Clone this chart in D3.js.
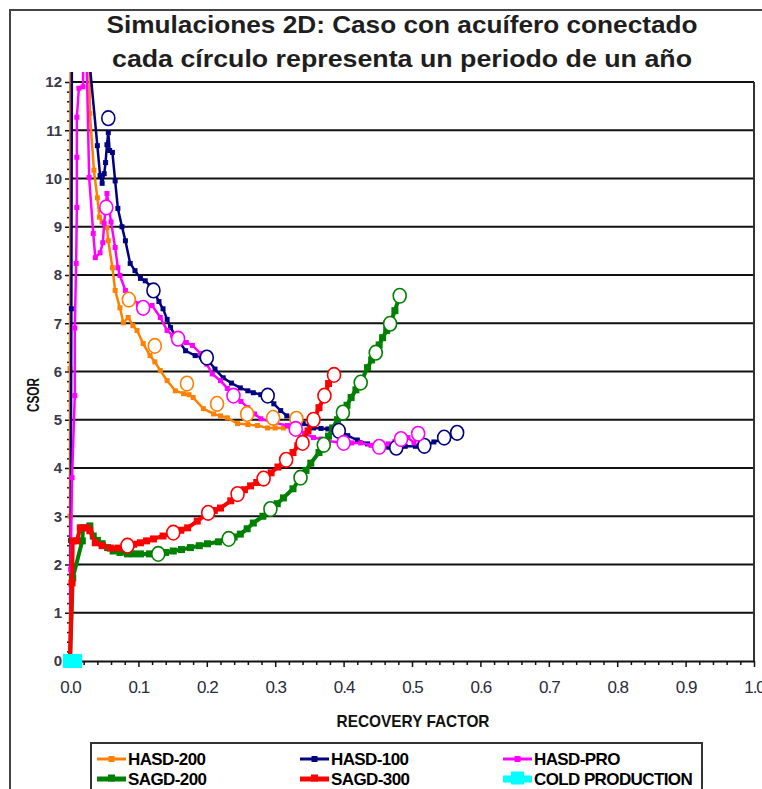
<!DOCTYPE html>
<html><head><meta charset="utf-8">
<script src="https://cdn.jsdelivr.net/npm/d3@7"></script>
<style>
html,body{margin:0;padding:0;background:#fff;}
svg{display:block;font-family:"Liberation Sans",Arial,sans-serif;}
</style></head>
<body>
<svg id="c" width="762" height="789"></svg>
<script>
// ---------- DATA ----------
const seriesNames = ["HASD-200","HASD-100","HASD-PRO","SAGD-200","SAGD-300","COLD PRODUCTION"];
const seriesColors = ["#ff8000","#000080","#ff00ff","#008000","#ff0000","#00ffff"];

const hasd200 = [[0,0],[0,3.0],[0,6.06],[0.001,14],[0.028,14],[0.029,11.35],[0.035,10.17],[0.040,9.6],[0.043,9.2],[0.047,9.1],[0.054,8.98],[0.056,8.71],[0.062,8.15],[0.066,7.68],[0.073,7.32],[0.078,7.01],[0.085,7.12],[0.092,6.95],[0.098,6.85],[0.107,6.58],[0.117,6.33],[0.124,6.2],[0.132,6.02],[0.142,5.81],[0.154,5.6],[0.166,5.54],[0.174,5.52],[0.180,5.46],[0.195,5.23],[0.210,5.12],[0.220,5.08],[0.230,5.04],[0.245,4.92],[0.260,4.9],[0.274,4.88],[0.289,4.83],[0.300,4.83],[0.312,4.83],[0.322,4.85],[0.331,4.88]];
const hasd200Years = [[0.086,7.49],[0.124,6.53],[0.171,5.75],[0.215,5.33],[0.259,5.12],[0.297,5.04],[0.331,5.02]];

const hasd100 = [[0,0],[0.001,2.5],[0.002,7.3],[0.003,14],[0.018,14],[0.040,10.68],[0.044,10.06],[0.047,9.9],[0.050,10.1],[0.052,10.33],[0.054,10.7],[0.056,10.95],[0.058,10.58],[0.062,10.54],[0.066,9.95],[0.070,9.38],[0.076,9.0],[0.081,8.71],[0.088,8.24],[0.095,8.09],[0.103,7.93],[0.110,7.88],[0.117,7.78],[0.124,7.62],[0.130,7.45],[0.136,7.30],[0.142,7.08],[0.147,6.91],[0.158,6.65],[0.169,6.43],[0.183,6.33],[0.192,6.30],[0.200,6.27],[0.212,6.05],[0.224,5.87],[0.236,5.76],[0.249,5.66],[0.260,5.60],[0.268,5.56],[0.279,5.52],[0.289,5.48],[0.298,5.33],[0.308,5.19],[0.317,5.08],[0.327,5.02],[0.341,4.92],[0.356,4.83],[0.367,4.82],[0.377,4.81],[0.394,4.79],[0.406,4.67],[0.420,4.58],[0.435,4.50],[0.455,4.44],[0.466,4.43],[0.477,4.42],[0.490,4.45],[0.505,4.45],[0.518,4.46],[0.532,4.54],[0.547,4.61],[0.557,4.67],[0.566,4.73]];
const hasd100Years = [[0.056,11.25],[0.122,7.68],[0.200,6.29],[0.289,5.50],[0.393,4.77],[0.477,4.42],[0.518,4.46],[0.547,4.63],[0.566,4.73]];

const hasdPro = [[0,0],[0.001,1.9],[0.003,3.8],[0.007,5.5],[0.007,6.9],[0.009,8.24],[0.010,9.4],[0.010,10.44],[0.010,11.27],[0.013,11.87],[0.019,11.9],[0.020,14],[0.022,14],[0.028,10.02],[0.034,8.86],[0.037,8.36],[0.044,8.46],[0.048,8.67],[0.050,9.07],[0.054,9.69],[0.060,9.1],[0.066,8.57],[0.070,8.15],[0.073,7.99],[0.081,7.68],[0.091,7.51],[0.100,7.4],[0.107,7.32],[0.120,7.37],[0.132,7.12],[0.142,6.85],[0.150,6.75],[0.158,6.68],[0.170,6.6],[0.179,6.54],[0.191,6.37],[0.200,6.15],[0.208,5.95],[0.220,5.81],[0.230,5.65],[0.239,5.5],[0.250,5.38],[0.260,5.25],[0.270,5.12],[0.279,5.02],[0.298,4.94],[0.318,4.88],[0.330,4.81],[0.343,4.72],[0.356,4.63],[0.367,4.6],[0.377,4.56],[0.400,4.52],[0.412,4.52],[0.425,4.52],[0.440,4.47],[0.452,4.44],[0.465,4.5],[0.475,4.55],[0.484,4.61],[0.494,4.63],[0.503,4.52],[0.509,4.71]];
const hasdProYears = [[0.053,9.4],[0.107,7.32],[0.158,6.68],[0.239,5.5],[0.330,4.81],[0.400,4.52],[0.452,4.44],[0.484,4.6],[0.509,4.71]];

const sagd200 = [[0,0],[0.004,1.72],[0.018,2.49],[0.019,2.76],[0.029,2.8],[0.034,2.59],[0.040,2.5],[0.047,2.43],[0.055,2.35],[0.063,2.28],[0.073,2.25],[0.084,2.22],[0.093,2.22],[0.103,2.22],[0.116,2.22],[0.129,2.22],[0.140,2.25],[0.151,2.28],[0.163,2.31],[0.176,2.35],[0.189,2.39],[0.201,2.43],[0.217,2.47],[0.232,2.53],[0.240,2.57],[0.249,2.63],[0.259,2.74],[0.268,2.86],[0.282,3.0],[0.293,3.15],[0.303,3.26],[0.312,3.38],[0.326,3.57],[0.337,3.8],[0.345,3.95],[0.352,4.1],[0.364,4.32],[0.371,4.5],[0.378,4.66],[0.384,4.83],[0.391,5.0],[0.399,5.15],[0.405,5.3],[0.411,5.46],[0.418,5.62],[0.425,5.77],[0.435,6.08],[0.441,6.24],[0.447,6.39],[0.452,6.55],[0.457,6.7],[0.463,6.85],[0.468,6.99],[0.475,7.26],[0.482,7.57]];
const sagd200Years = [[0.129,2.22],[0.232,2.53],[0.293,3.15],[0.337,3.8],[0.371,4.48],[0.399,5.15],[0.425,5.77],[0.447,6.39],[0.468,6.99],[0.482,7.57]];

const sagd300 = [[0,0],[0.003,1.62],[0.004,2.49],[0.010,2.49],[0.015,2.76],[0.025,2.76],[0.029,2.7],[0.037,2.45],[0.047,2.39],[0.059,2.34],[0.070,2.34],[0.084,2.39],[0.093,2.42],[0.103,2.45],[0.112,2.49],[0.122,2.53],[0.136,2.59],[0.151,2.66],[0.162,2.71],[0.172,2.76],[0.186,2.9],[0.202,3.07],[0.211,3.12],[0.220,3.17],[0.235,3.32],[0.245,3.46],[0.255,3.55],[0.264,3.63],[0.273,3.7],[0.283,3.78],[0.294,3.9],[0.304,4.02],[0.318,4.19],[0.326,4.32],[0.333,4.46],[0.340,4.56],[0.348,4.77],[0.356,4.98],[0.364,5.25],[0.372,5.48],[0.378,5.75],[0.386,5.93]];
const sagd300Years = [[0.084,2.39],[0.151,2.66],[0.202,3.07],[0.245,3.46],[0.283,3.78],[0.316,4.17],[0.340,4.52],[0.356,5.0],[0.372,5.5],[0.386,5.93]];

const coldProduction = [[0,0],[0.009,0]];

const xTicks = [0,0.1,0.2,0.3,0.4,0.5,0.6,0.7,0.8,0.9,1.0];
const xMinorTicks = [0.02,0.04,0.06,0.08,0.12,0.14,0.16,0.18,0.22,0.24,0.26,0.28,0.32,0.34,0.36,0.38,0.42,0.44,0.46,0.48,0.52,0.54,0.56,0.58,0.62,0.64,0.66,0.68,0.72,0.74,0.76,0.78,0.82,0.84,0.86,0.88,0.92,0.94,0.96,0.98];
const yTicks = [0,1,2,3,4,5,6,7,8,9,10,11,12];
const titleLines = ["Simulaciones 2D: Caso con acuífero conectado","cada círculo representa un periodo de un año"];
const xTitle = "RECOVERY FACTOR";
const yTitle = "CSOR";

// ---------- CHART ----------
const svg = d3.select("#c");
const L = 70, R = 754, T = 82, B = 661;
const x = d3.scaleLinear().domain([0,1]).range([L,R]);
const y = d3.scaleLinear().domain([0,12]).range([B,T]);

// outer chart border
svg.append("rect").attr("x",10).attr("y",10).attr("width",800).attr("height",820)
  .attr("fill","none").attr("stroke","#444").attr("stroke-width",2);

// titles
titleLines.forEach((t,i)=>{
  svg.append("text").attr("x",402).attr("y",i===0?33:67)
    .attr("text-anchor","middle").attr("font-size",24).attr("font-weight","bold")
    .attr("fill","#1e1e1e").attr("textLength", i===0?591:580).attr("lengthAdjust","spacingAndGlyphs")
    .text(t);
});

// gridlines
svg.append("g").selectAll("line").data(yTicks.filter(d=>d>0)).join("line")
  .attr("x1",L).attr("x2",R).attr("y1",d=>y(d)).attr("y2",d=>y(d))
  .attr("stroke","#111").attr("stroke-width",1.8);
// right border of plot
svg.append("line").attr("x1",R).attr("x2",R).attr("y1",T).attr("y2",B)
  .attr("stroke","#333").attr("stroke-width",2);

// X axis
const gx = svg.append("g").attr("transform",`translate(0,${B})`);
gx.call(d3.axisBottom(x).tickValues(xMinorTicks).tickSize(4).tickFormat(""));
gx.call(g=>g.select(".domain").remove());
const gx2 = svg.append("g").attr("transform",`translate(0,${B})`)
  .call(d3.axisBottom(x).tickValues(xTicks).tickSize(6).tickSizeOuter(0).tickPadding(14).tickFormat(d3.format(".1f")));
[gx,gx2].forEach(g=>{g.selectAll(".tick line").attr("stroke","#111").attr("stroke-width",1.5);});
gx2.select(".domain").attr("stroke","#111").attr("stroke-width",2);
gx2.selectAll(".tick text").attr("font-size",17).attr("fill","#2a2a3a")
  .attr("font-family","'Liberation Sans',Arial,sans-serif").attr("letter-spacing","-1px");

// Y axis
const yMinor = d3.range(0,60).map(i=>i*0.2).filter(v=>Math.abs(v-Math.round(v))>1e-6);
const gy = svg.append("g").attr("transform",`translate(${L},0)`)
  .call(d3.axisLeft(y).tickValues(yMinor).tickSize(3).tickFormat(""));
gy.select(".domain").remove();
const gy2 = svg.append("g").attr("transform",`translate(${L},0)`)
  .call(d3.axisLeft(y).tickValues(yTicks).tickSize(5).tickSizeOuter(0).tickPadding(3).tickFormat(d3.format("d")));
[gy,gy2].forEach(g=>{g.selectAll(".tick line").attr("stroke","#111").attr("stroke-width",1.5);});
gy2.select(".domain").attr("stroke","#111").attr("stroke-width",2);
gy2.selectAll(".tick text").attr("font-size",15).attr("font-weight","bold").attr("fill","#3a3a4a")
  .attr("font-family","'Liberation Sans',Arial,sans-serif");

// axis titles
svg.append("text").attr("x",413).attr("y",727).attr("text-anchor","middle")
  .attr("font-size",17).attr("font-weight","bold").attr("fill","#111")
  .attr("textLength",153).attr("lengthAdjust","spacingAndGlyphs").text(xTitle);
svg.append("text").attr("transform","translate(39,395) rotate(-90)").attr("text-anchor","middle")
  .attr("font-size",16).attr("font-weight","bold").attr("fill","#111")
  .attr("textLength",34).attr("lengthAdjust","spacingAndGlyphs").text(yTitle);

// clip
svg.append("clipPath").attr("id","pc").append("rect")
  .attr("x",L-12).attr("y",72).attr("width",R-L+12).attr("height",B-72+12);
const plot = svg.append("g").attr("clip-path","url(#pc)");

const line = d3.line().x(d=>x(d[0])).y(d=>y(d[1]));
const allSeries = [
  {pts:hasd200, yrs:hasd200Years, c:seriesColors[0], w:2.5, s:5},
  {pts:hasd100, yrs:hasd100Years, c:seriesColors[1], w:2.5, s:5},
  {pts:hasdPro, yrs:hasdProYears, c:seriesColors[2], w:2.5, s:5},
  {pts:sagd200, yrs:sagd200Years, c:seriesColors[3], w:4, s:7},
  {pts:sagd300, yrs:sagd300Years, c:seriesColors[4], w:4, s:7},
];
allSeries.forEach(S=>{
  const g = plot.append("g");
  g.append("path").datum(S.pts).attr("d",line).attr("fill","none")
    .attr("stroke",S.c).attr("stroke-width",S.w).attr("stroke-linejoin","round");
  g.selectAll("rect").data(S.pts).join("rect")
    .attr("x",d=>x(d[0])-S.s/2).attr("y",d=>y(d[1])-S.s/2)
    .attr("width",S.s).attr("height",S.s).attr("fill",S.c);
});
allSeries.forEach(S=>{
  plot.append("g").selectAll("ellipse").data(S.yrs).join("ellipse")
    .attr("cx",d=>x(d[0])).attr("cy",d=>y(d[1])).attr("rx",6.5).attr("ry",7.3)
    .attr("fill","#fff").attr("stroke",S.c).attr("stroke-width",1.6);
});
// cold production
plot.append("g").selectAll("rect").data(coldProduction).join("rect")
  .attr("x",d=>x(d[0])-7).attr("y",d=>y(d[1])-7).attr("width",13).attr("height",14)
  .attr("fill",seriesColors[5]);

// legend
svg.append("rect").attr("x",91).attr("y",743).attr("width",611).attr("height",80)
  .attr("fill","#fff").attr("stroke","#333").attr("stroke-width",2);
const legPos = [[97,759],[300,759],[503,759],[97,779],[300,779],[503,779]];
seriesNames.forEach((n,i)=>{
  const [lx,ly] = legPos[i];
  const g = svg.append("g");
  const thick = i>=3;
  const lw = i===5?7:(thick?5:3), sq = i===5?13:(thick?7:6);
  g.append("line").attr("x1",lx).attr("x2",lx+29).attr("y1",ly).attr("y2",ly)
    .attr("stroke",seriesColors[i]).attr("stroke-width",lw);
  g.append("rect").attr("x",lx+14.5-sq/2).attr("y",ly-sq/2-(thick?1:0)).attr("width",sq).attr("height",sq)
    .attr("fill",seriesColors[i]);
  g.append("text").attr("x",lx+31).attr("y",ly+6).attr("font-size",17).attr("font-weight","bold")
    .attr("fill","#000").attr("letter-spacing","-0.6px").text(n);
});
</script>
</body></html>
